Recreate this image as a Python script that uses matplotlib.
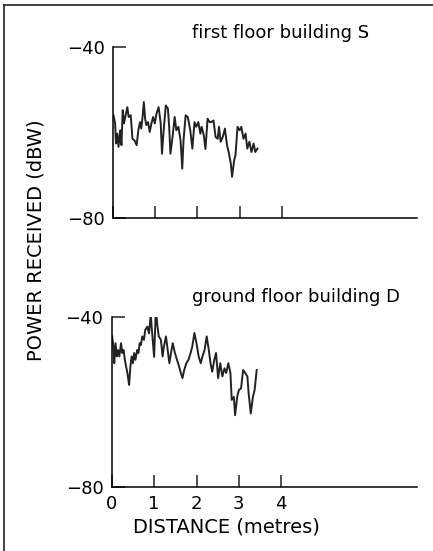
import matplotlib.pyplot as plt
from matplotlib.lines import Line2D

# first floor building S
dist_s = [0.01, 0.05, 0.07, 0.10, 0.13, 0.17, 0.20, 0.23, 0.26, 0.29, 0.34, 0.37,
          0.42, 0.46, 0.51, 0.56, 0.60, 0.64, 0.67, 0.70, 0.73, 0.76, 0.79, 0.83,
          0.87, 0.91, 0.95, 0.99, 1.03, 1.08, 1.13, 1.16, 1.20, 1.25, 1.30, 1.33,
          1.36, 1.41, 1.46, 1.50, 1.55, 1.60, 1.64, 1.67, 1.72, 1.77, 1.80, 1.83,
          1.88, 1.93, 1.97, 2.02, 2.07, 2.10, 2.15, 2.19, 2.24, 2.29, 2.33, 2.38,
          2.43, 2.48, 2.51, 2.55, 2.60, 2.65, 2.70, 2.74, 2.79, 2.82, 2.87, 2.90,
          2.95, 3.00, 3.04, 3.09, 3.14, 3.18, 3.23, 3.28, 3.33, 3.37, 3.42]
power_s = [-55.9, -57.8, -62.5, -60.2, -63.3, -59.4, -62.9, -54.7, -57.8, -56.3, -54.0, -56.3,
           -55.9, -61.4, -61.8, -62.9, -59.4, -57.5, -59.0, -56.3, -52.8, -56.7, -58.2, -57.5,
           -59.8, -57.8, -56.3, -57.8, -55.5, -54.0, -57.8, -64.9, -59.4, -53.6, -54.3, -58.6,
           -64.9, -61.0, -56.3, -59.4, -58.6, -61.8, -68.4, -61.8, -55.9, -56.3, -57.8, -59.4,
           -63.7, -57.5, -58.6, -57.5, -60.2, -58.6, -60.6, -63.8, -56.7, -57.5, -57.5, -57.1,
           -61.0, -61.4, -58.6, -62.1, -61.0, -59.0, -62.9, -64.5, -67.2, -70.3, -66.4, -65.3,
           -58.6, -59.4, -58.6, -61.4, -60.2, -63.7, -62.1, -64.5, -62.5, -64.5, -63.7]

# ground floor building D
dist_d = [0.01, 0.04, 0.06, 0.09, 0.12, 0.15, 0.18, 0.22, 0.25, 0.28, 0.31, 0.34,
          0.37, 0.41, 0.44, 0.47, 0.50, 0.53, 0.56, 0.60, 0.63, 0.66, 0.69, 0.72,
          0.76, 0.79, 0.84, 0.88, 0.92, 0.96, 1.00, 1.04, 1.08, 1.11, 1.16, 1.20,
          1.23, 1.28, 1.32, 1.36, 1.41, 1.44, 1.49, 1.54, 1.59, 1.63, 1.67, 1.71,
          1.76, 1.81, 1.86, 1.90, 1.95, 2.00, 2.05, 2.10, 2.14, 2.19, 2.24, 2.29,
          2.33, 2.37, 2.42, 2.46, 2.51, 2.56, 2.61, 2.66, 2.70, 2.75, 2.80, 2.83,
          2.88, 2.91, 2.96, 3.00, 3.05, 3.10, 3.15, 3.20, 3.23, 3.28, 3.33, 3.37, 3.42]
power_d = [-44.6, -47.0, -50.9, -46.2, -49.3, -47.8, -49.3, -46.2, -48.5, -47.8, -50.1, -51.7,
           -53.2, -56.0, -51.7, -49.3, -50.9, -48.5, -50.1, -47.8, -48.5, -46.2, -46.6, -44.6,
           -45.4, -43.1, -42.3, -43.9, -39.5, -44.6, -49.4, -38.3, -42.3, -44.6, -45.4, -49.3,
           -47.0, -44.6, -47.8, -50.9, -47.8, -46.2, -48.5, -50.1, -51.7, -53.2, -54.4, -52.5,
           -50.9, -50.1, -48.5, -47.0, -43.8, -46.2, -49.3, -50.9, -49.3, -47.8, -44.6, -47.8,
           -50.9, -52.9, -50.1, -48.5, -54.4, -50.9, -54.0, -52.1, -53.2, -50.9, -53.2, -59.5,
           -58.8, -63.1, -58.8, -57.2, -56.8, -52.5, -53.2, -54.0, -58.0, -62.7, -58.8, -57.2, -52.5]

x_ticks = [0, 1, 2, 3, 4]
y_ticks = [-80, -40]
y_labels = ['\u221280', '\u221240']

fig = plt.figure(figsize=(4.33, 5.51), dpi=100)
ax1 = fig.add_axes([0.261, 0.604, 0.702, 0.310])
ax2 = fig.add_axes([0.258, 0.116, 0.705, 0.309])

for ax in (ax1, ax2):
    ax.set_xlim(0, 7.2)
    ax.set_ylim(-80, -40)
    ax.spines['top'].set_visible(False)
    ax.spines['right'].set_visible(False)
    ax.spines['left'].set_linewidth(1.1)
    ax.spines['bottom'].set_linewidth(1.1)
    ax.set_yticks(y_ticks)
    ax.set_yticklabels(y_labels, fontsize=13)
    ax.tick_params(axis='both', direction='in', length=9, width=1.1, pad=6, color='#222222')
    ax.set_xticks(x_ticks)

ax1.plot(dist_s, power_s, color='#222222', linewidth=1.4)
ax1.set_xticklabels([])
ax2.plot(dist_d, power_d, color='#222222', linewidth=1.4)
ax2.set_xticklabels([str(t) for t in x_ticks], fontsize=13)

fig.text(0.647, 0.94, 'first floor building S', fontsize=13, ha='center', va='center')
fig.text(0.683, 0.461, 'ground floor building D', fontsize=13, ha='center', va='center')
fig.text(0.524, 0.043, 'DISTANCE (metres)', fontsize=14, ha='center', va='center')
fig.text(0.083, 0.564, 'POWER RECEIVED (dBW)', fontsize=14, rotation=90,
         ha='center', va='center')

# frame of the scanned figure
fig.add_artist(Line2D([0.009, 0.009], [0.0, 0.991], color='#222222', linewidth=1.2))
fig.add_artist(Line2D([0.009, 1.0], [0.991, 0.991], color='#222222', linewidth=1.2))

fig.savefig('out.png', dpi=100)
